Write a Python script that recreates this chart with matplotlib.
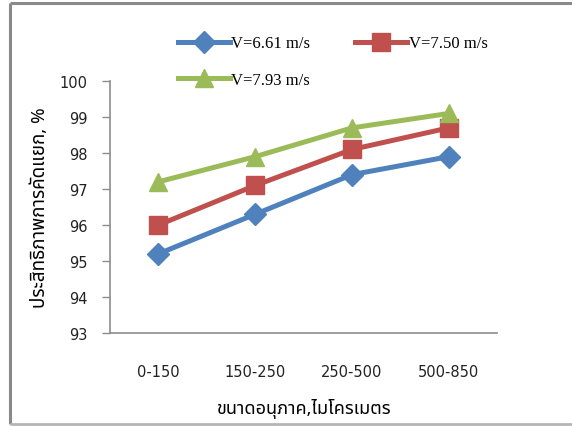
import matplotlib
matplotlib.use("Agg")
import matplotlib.pyplot as plt
from matplotlib.lines import Line2D
from matplotlib import font_manager

# Particle size classes and separation efficiency (%) per air velocity
categories = ["0-150", "150-250", "250-500", "500-850"]
eff_v661 = [95.2, 96.3, 97.4, 97.9]
eff_v750 = [96.0, 97.1, 98.1, 98.7]
eff_v793 = [97.2, 97.9, 98.7, 99.1]
series_labels = ["V=6.61 m/s", "V=7.50 m/s", "V=7.93 m/s"]
y_ticks = [93, 94, 95, 96, 97, 98, 99, 100]

# pick a family with Thai glyphs if one is installed
thai_candidates = ["Noto Sans Thai", "Noto Serif Thai", "Tahoma", "Garuda", "Loma",
                   "Norasi", "TlwgTypo", "Waree", "Sarabun", "Kinnari"]
installed = {f.name for f in font_manager.fontManager.ttflist}
thai_fonts = [f for f in thai_candidates if f in installed]
label_family = thai_fonts + ["DejaVu Sans"]

fig = plt.figure(figsize=(5.72, 4.27), dpi=100)
fig.patch.set_linewidth(0)
fig.patch.set_edgecolor("none")
ax = fig.add_axes([0.1923, 0.2178, 0.677, 0.590])

x = list(range(len(categories)))
colors = ["#4F81BD", "#C0504D", "#9BBB59"]
h1, = ax.plot(x, eff_v661, color=colors[0], lw=3.6, marker="D", ms=11, label=series_labels[0])
h2, = ax.plot(x, eff_v750, color=colors[1], lw=3.6, marker="s", ms=13, label=series_labels[1])
h3, = ax.plot(x, eff_v793, color=colors[2], lw=3.6, marker="^", ms=13.5, label=series_labels[2])

ax.set_xlim(-0.5, len(categories) - 0.5)
ax.set_ylim(93, 100)
ax.set_yticks(y_ticks)
ax.set_xticks(x)
ax.set_xticklabels(categories)

for s in ["top", "right"]:
    ax.spines[s].set_visible(False)
for s in ["left", "bottom"]:
    ax.spines[s].set_color("#8c8c8c")
    ax.spines[s].set_linewidth(1.2)

ax.tick_params(axis="y", direction="out", length=6, width=1, color="#8c8c8c",
               labelsize=10.5, pad=10, labelcolor="#222222")
ax.tick_params(axis="x", length=0, labelsize=10.5, pad=22, labelcolor="#222222")
for t in ax.get_xticklabels() + ax.get_yticklabels():
    t.set_family("DejaVu Sans")

ax.set_xlabel("ขนาดอนุภาค,ไมโครเมตร", family=label_family, fontsize=13, labelpad=14)
ax.set_ylabel("ประสิทธิภาพการคัดแยก, %", family=label_family, fontsize=13.5, labelpad=8)

# legend laid out row by row: blue, red on the first row, green below
leg = fig.legend([h1, h3, h2], [series_labels[0], series_labels[2], series_labels[1]],
                 ncol=2, loc="upper left", bbox_to_anchor=(0.285, 0.95),
                 frameon=False, handlelength=3.1, handletextpad=0.1,
                 columnspacing=2.7, labelspacing=1.25,
                 prop={"family": "Liberation Serif", "size": 12})

# outer chart frame (left, top, bottom edges)
frame_kw = dict(color="#8a8a8a", lw=2.2, transform=fig.transFigure, solid_capstyle="butt")
fig.add_artist(Line2D([0.017, 0.017], [0.004, 0.991], **frame_kw))
fig.add_artist(Line2D([0.017, 1.0], [0.991, 0.991], **frame_kw))
fig.add_artist(Line2D([0.017, 1.0], [0.004, 0.004], color="#b5b5b5", lw=2,
                      transform=fig.transFigure, solid_capstyle="butt"))

fig.savefig("out.png", dpi=100)
